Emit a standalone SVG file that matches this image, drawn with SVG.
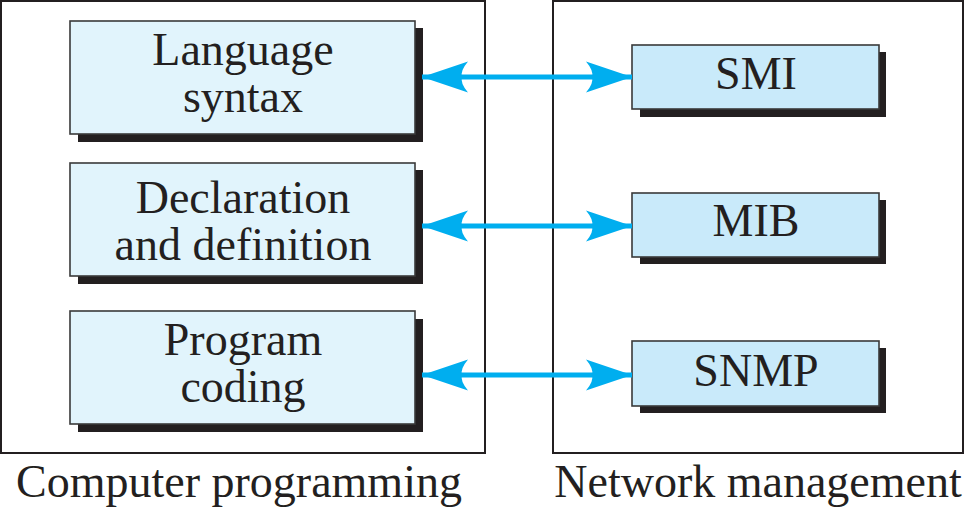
<svg xmlns="http://www.w3.org/2000/svg" width="965" height="518" viewBox="0 0 965 518">
<style>
.frame{fill:none;stroke:#231f20;stroke-width:2}
.shadow{fill:#231f20}
.lbox{fill:#e1f4fc;stroke:#3a3a3a;stroke-width:1.6}
.rbox{fill:#c9eafa;stroke:#3a3a3a;stroke-width:1.6}
.t{font-family:"Liberation Serif","Times New Roman",serif;font-size:46px;fill:#231f20;text-anchor:middle}
.conn{stroke:#00aeef;stroke-width:5;fill:none}
.head{fill:#00aeef}
</style>
<defs>
<marker id="ah" markerUnits="userSpaceOnUse" markerWidth="52" markerHeight="34" refX="50" refY="16" orient="auto-start-reverse" viewBox="0 0 52 34">
<path class="head" d="M50,16 L4,0.5 Q12,10 10,16 Q12,22 4,31.5 Z"/>
</marker>
</defs>
<g id="frame-computer-programming">
<rect class="frame" x="1" y="1" width="484" height="452"/>
<text class="t" x="239" y="497">Computer programming</text>
</g>
<g id="frame-network-management">
<rect class="frame" x="553" y="1" width="410" height="452"/>
<text class="t" x="758" y="497">Network management</text>
</g>
<g id="language-syntax">
<rect class="shadow" x="78" y="28" width="345" height="114"/>
<rect class="lbox" x="70" y="21" width="345" height="113"/>
<text class="t" x="243" y="65">Language</text>
<text class="t" x="243" y="112">syntax</text>
</g>
<g id="declaration-and-definition">
<rect class="shadow" x="78" y="170" width="345" height="114"/>
<rect class="lbox" x="70" y="163" width="345" height="113"/>
<text class="t" x="243" y="213">Declaration</text>
<text class="t" x="243" y="260">and definition</text>
</g>
<g id="program-coding">
<rect class="shadow" x="78" y="319" width="345" height="113"/>
<rect class="lbox" x="70" y="311" width="345" height="113"/>
<text class="t" x="243" y="355">Program</text>
<text class="t" x="243" y="402">coding</text>
</g>
<g id="smi">
<rect class="shadow" x="640" y="52" width="246" height="65"/>
<rect class="rbox" x="632" y="45" width="247" height="64"/>
<text class="t" x="756" y="89">SMI</text>
</g>
<g id="mib">
<rect class="shadow" x="640" y="200" width="246" height="64"/>
<rect class="rbox" x="632" y="193" width="247" height="64"/>
<text class="t" x="756" y="236">MIB</text>
</g>
<g id="snmp">
<rect class="shadow" x="640" y="348" width="246" height="65"/>
<rect class="rbox" x="632" y="341" width="247" height="65"/>
<text class="t" x="756" y="386">SNMP</text>
</g>
<g id="connectors">
<line class="conn" x1="422" y1="77" x2="632" y2="77" marker-start="url(#ah)" marker-end="url(#ah)"/>
<line class="conn" x1="422" y1="226" x2="632" y2="226" marker-start="url(#ah)" marker-end="url(#ah)"/>
<line class="conn" x1="422" y1="375" x2="632" y2="375" marker-start="url(#ah)" marker-end="url(#ah)"/>
</g>
</svg>
